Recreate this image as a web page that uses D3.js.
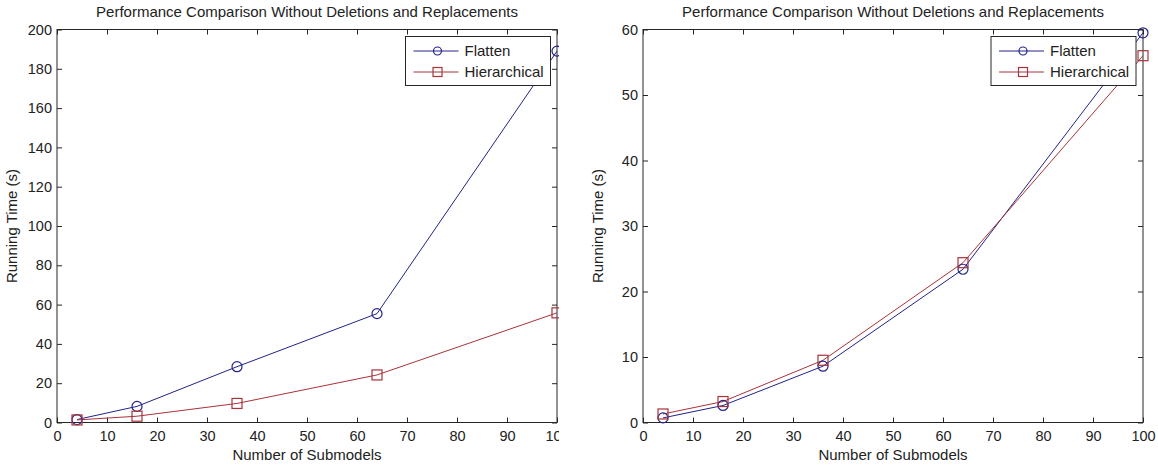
<!DOCTYPE html>
<html>
<head>
<meta charset="utf-8">
<script src="https://cdn.jsdelivr.net/npm/d3@7"></script>
<style>
  body { margin: 0; background: #fff; }
  svg { display: block; font-family: "Liberation Sans", Arial, sans-serif; }
</style>
</head>
<body>
<div class="chart"></div>
<script>
// values
var submodels = [4, 16, 36, 64, 100];
var flattenLeft = [1.5, 8.2, 28.4, 55.4, 189];
var hierLeft = [1.3, 3.2, 9.7, 24.2, 55.8];
var flattenRight = [0.7, 2.6, 8.6, 23.4, 59.5];
var hierRight = [1.3, 3.2, 9.5, 24.4, 56.0];
var xTicks = [0, 10, 20, 30, 40, 50, 60, 70, 80, 90, 100];
var yTicksLeft = [0, 20, 40, 60, 80, 100, 120, 140, 160, 180, 200];
var yTicksRight = [0, 10, 20, 30, 40, 50, 60];
var seriesNames = ["Flatten", "Hierarchical"];
var titleText = "Performance Comparison Without Deletions and Replacements";
var xLabel = "Number of Submodels";
var yLabel = "Running Time (s)";

var colors = ["#22228a", "#a8323a"];
var axisColor = "#262626";

var svg = d3.select(".chart").append("svg")
    .attr("width", 1158)
    .attr("height", 466);

svg.append("defs").append("clipPath")
    .attr("id", "leftClip")
  .append("rect")
    .attr("x", 0).attr("y", 0)
    .attr("width", 559).attr("height", 466);

function drawPanel(parent, left, yMax, yTicks, flat, hier, legendX) {
  var top = 29.5, bottom = 422.5, right = left + 500;

  var x = d3.scaleLinear().domain([0, 100]).range([left, right]);
  var y = d3.scaleLinear().domain([0, yMax]).range([bottom, top]);

  var g = parent.append("g");

  // ticks on all four sides, pointing inward
  g.append("g")
      .attr("transform", "translate(0," + bottom + ")")
      .call(d3.axisBottom(x).tickValues(xTicks).tickSize(-5).tickSizeOuter(0).tickPadding(8));
  g.append("g")
      .attr("transform", "translate(0," + top + ")")
      .call(d3.axisTop(x).tickValues(xTicks).tickSize(-5).tickSizeOuter(0).tickFormat(""));
  g.append("g")
      .attr("transform", "translate(" + left + ",0)")
      .call(d3.axisLeft(y).tickValues(yTicks).tickSize(-5).tickSizeOuter(0).tickPadding(5));
  g.append("g")
      .attr("transform", "translate(" + right + ",0)")
      .call(d3.axisRight(y).tickValues(yTicks).tickSize(-5).tickSizeOuter(0).tickFormat(""));

  g.selectAll(".domain").remove();
  g.selectAll(".tick line").attr("stroke", axisColor);
  g.selectAll(".tick text")
      .attr("fill", "#222")
      .style("font-size", "14.5px")
      .style("font-family", "\"Liberation Sans\", Arial, sans-serif");

  g.append("rect")
      .attr("x", left).attr("y", top)
      .attr("width", right - left).attr("height", bottom - top)
      .attr("fill", "none")
      .attr("stroke", axisColor)
      .attr("stroke-width", 1);

  var line = d3.line()
      .x(function(d, i) { return x(submodels[i]); })
      .y(function(d) { return y(d); });

  [flat, hier].forEach(function(vals, s) {
    g.append("path")
        .datum(vals)
        .attr("d", line)
        .attr("fill", "none")
        .attr("stroke", colors[s])
        .attr("stroke-width", 1);
  });

  g.selectAll(".flatMark")
      .data(flat)
      .enter().append("circle")
        .attr("cx", function(d, i) { return x(submodels[i]); })
        .attr("cy", function(d) { return y(d); })
        .attr("r", 5)
        .attr("fill", "none")
        .attr("stroke", colors[0])
        .attr("stroke-width", 1.2);

  g.selectAll(".hierMark")
      .data(hier)
      .enter().append("rect")
        .attr("x", function(d, i) { return x(submodels[i]) - 5; })
        .attr("y", function(d) { return y(d) - 5; })
        .attr("width", 10).attr("height", 10)
        .attr("fill", "none")
        .attr("stroke", colors[1])
        .attr("stroke-width", 1.2);

  // title and labels
  g.append("text")
      .attr("x", (left + right) / 2).attr("y", 17)
      .attr("text-anchor", "middle")
      .attr("fill", "#222")
      .style("font-size", "15px")
      .text(titleText);
  g.append("text")
      .attr("x", (left + right) / 2).attr("y", 460)
      .attr("text-anchor", "middle")
      .attr("fill", "#222")
      .style("font-size", "15px")
      .text(xLabel);
  g.append("text")
      .attr("transform", "translate(" + (left - 40) + "," + ((top + bottom) / 2) + ") rotate(-90)")
      .attr("text-anchor", "middle")
      .attr("fill", "#222")
      .style("font-size", "15px")
      .text(yLabel);

  // legend
  var leg = g.append("g").attr("transform", "translate(" + legendX + ",36.5)");
  leg.append("rect")
      .attr("width", 145).attr("height", 49)
      .attr("fill", "#fff")
      .attr("stroke", axisColor)
      .attr("stroke-width", 1);
  seriesNames.forEach(function(name, s) {
    var ry = 14.5 + s * 21;
    leg.append("line")
        .attr("x1", 8).attr("x2", 53)
        .attr("y1", ry).attr("y2", ry)
        .attr("stroke", colors[s]);
    if (s === 0) {
      leg.append("circle")
          .attr("cx", 32).attr("cy", ry).attr("r", 4)
          .attr("fill", "none").attr("stroke", colors[s]).attr("stroke-width", 1.2);
    } else {
      leg.append("rect")
          .attr("x", 27.5).attr("y", ry - 4.5).attr("width", 9).attr("height", 9)
          .attr("fill", "none").attr("stroke", colors[s]).attr("stroke-width", 1.2);
    }
    leg.append("text")
        .attr("x", 59).attr("y", ry + 5)
        .attr("fill", "#222")
        .style("font-size", "15px")
        .text(name);
  });

  return g;
}

var leftPanel = svg.append("g").attr("clip-path", "url(#leftClip)");
drawPanel(leftPanel, 57, 200, yTicksLeft, flattenLeft, hierLeft, 405.5);
drawPanel(svg, 643, 60, yTicksRight, flattenRight, hierRight, 991);
</script>
</body>
</html>
